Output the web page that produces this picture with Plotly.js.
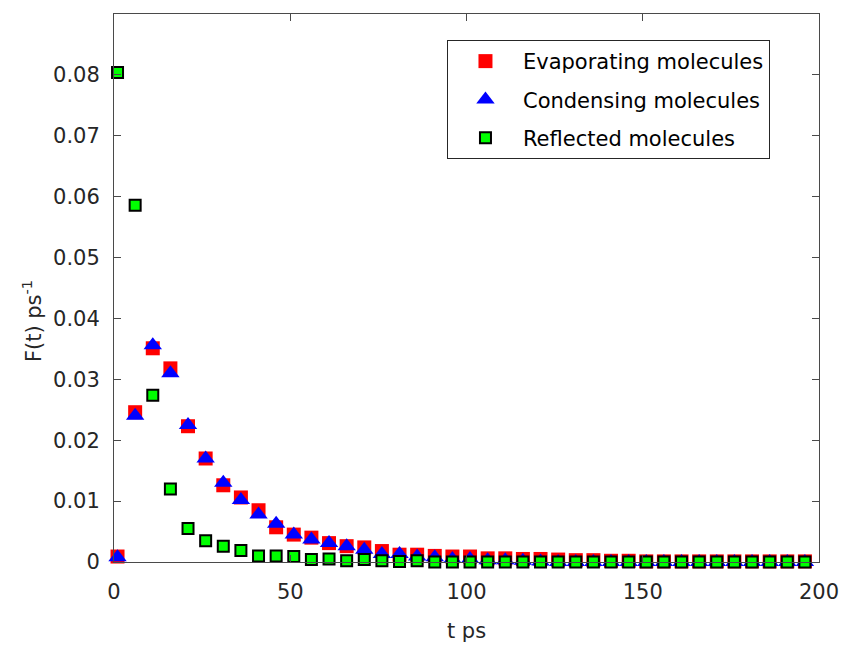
<!DOCTYPE html>
<html>
<head>
<meta charset="utf-8">
<script src="https://cdn.plot.ly/plotly-3.0.1.min.js"></script>
<style>
html,body{margin:0;padding:0;background:#fff;}
#chart{width:844px;height:646px;}
</style>
</head>
<body>
<div id="chart"></div>
<script>
const tValues = [1,6,11,16,21,26,31,36,41,46,51,56,61,66,71,76,81,86,91,96,101,106,111,116,121,126,131,136,141,146,151,156,161,166,171,176,181,186,191,196];
const evaporating = [0.0009,0.0246,0.0351,0.0318,0.0223,0.0170,0.0126,0.0106,0.0085,0.0057,0.0045,0.0040,0.0031,0.0026,0.0024,0.0018,0.0012,0.0012,0.0010,0.0009,0.0009,0.0006,0.0006,0.0005,0.0005,0.0004,0.0003,0.0003,0.0002,0.0002,0.0001,0.0001,0.0001,0.0001,0.0001,0.0001,0.0001,0.0001,0.0001,0.0001];
const condensing = [0.0008,0.0240,0.0356,0.0310,0.0225,0.0170,0.0130,0.0102,0.0078,0.0063,0.0045,0.0037,0.0031,0.0026,0.0020,0.0013,0.0013,0.0009,0.0008,0.0005,0.0005,0.0003,0.0003,0.0002,0.0001,0.0000,0.0000,0.0000,0.0000,0.0000,0.0000,0.0000,0.0000,0.0000,0.0000,0.0000,0.0000,0.0000,0.0000,0.0000];
const reflected = [0.0804,0.0586,0.0274,0.0120,0.0055,0.0035,0.0026,0.0019,0.0010,0.0010,0.0009,0.0004,0.0005,0.0002,0.0004,0.0002,0.0001,0.0002,0.0000,0.0000,0.0000,0.0000,0.0000,0.0000,0.0000,0.0000,0.0000,0.0000,0.0000,0.0000,0.0000,0.0000,0.0000,0.0000,0.0000,0.0000,0.0000,0.0000,0.0000,0.0000];
const seriesNames = ['Evaporating molecules','Condensing molecules','Reflected molecules'];
const xTickVals = [0,50,100,150,200];
const yTickVals = [0,0.01,0.02,0.03,0.04,0.05,0.06,0.07,0.08];
const xTitle = 't ps';
const yTitle = 'F(t) ps<sup>-1</sup>';

const FONT = 'DejaVu Sans, Liberation Sans, Arial, sans-serif';
const TXT = '#262626';
const LINE = '#4a4a4a';
const FS = 21;

const traces = [
  {x:tValues, y:evaporating, name:seriesNames[0], type:'scatter', mode:'markers', legendgroup:'a',
   marker:{symbol:'square', size:14, color:'#ff0000', line:{width:0}}, cliponaxis:false},
  {x:tValues, y:condensing, name:seriesNames[1], type:'scatter', mode:'markers', legendgroup:'b',
   marker:{symbol:'triangle-up', size:16, color:'#0000ff', line:{width:0}}, cliponaxis:false},
  {x:tValues, y:reflected, name:seriesNames[2], type:'scatter', mode:'markers', legendgroup:'c',
   marker:{symbol:'square', size:11, color:'#00ff00', line:{width:2, color:'#000000'}}, cliponaxis:false}
];

const layout = {
  width:844, height:646,
  margin:{l:114, r:25, t:14, b:84},
  paper_bgcolor:'#ffffff', plot_bgcolor:'#ffffff',
  font:{family:FONT, size:FS, color:TXT},
  showlegend:true,
  legend:{x:0.4723, xanchor:'left', y:0.9526, yanchor:'top',
    bgcolor:'#ffffff', bordercolor:TXT, borderwidth:1, itemwidth:65,
    font:{family:FONT, size:FS, color:'#000000'}, tracegroupgap:8},
  xaxis:{range:[0,200], tickvals:xTickVals, ticktext:xTickVals.map(String),
    showline:true, linecolor:LINE, linewidth:1, mirror:'ticks',
    ticks:'inside', ticklen:7, tickcolor:LINE, showgrid:false, zeroline:false,
    tickfont:{family:FONT, size:FS, color:TXT}, ticklabelstandoff:11,
    title:{text:xTitle, font:{family:FONT, size:FS, color:TXT}, standoff:20}},
  yaxis:{range:[0,0.09], tickvals:yTickVals, ticktext:yTickVals.map(v=>v===0?'0':v.toFixed(2)),
    showline:true, linecolor:LINE, linewidth:1, mirror:'ticks',
    ticks:'inside', ticklen:7, tickcolor:LINE, showgrid:false, zeroline:false,
    tickfont:{family:FONT, size:FS, color:TXT}, ticklabelstandoff:9},
  annotations:[
    {text:yTitle, xref:'paper', yref:'paper', x:-0.116, y:0.44, xanchor:'center', yanchor:'middle',
     textangle:-90, showarrow:false, font:{family:FONT, size:FS, color:TXT}}
  ]
};

Plotly.newPlot('chart', traces, layout, {displayModeBar:false, staticPlot:true});
</script>
</body>
</html>
